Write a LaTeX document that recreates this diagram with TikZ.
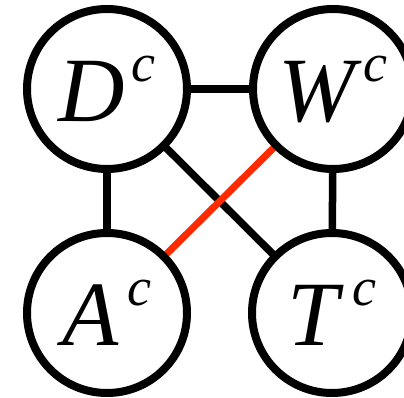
\documentclass[tikz,border=0pt]{standalone}
\usepackage{fontspec}
\setmainfont{Liberation Serif}
\usetikzlibrary{backgrounds}
\definecolor{edgered}{HTML}{FF2A00}
\newcommand{\lbl}[2]{{\fontsize{92}{92}\selectfont\itshape #1\kern #2\raisebox{40pt}{\fontsize{54}{54}\selectfont c}}}
\begin{document}
\begin{tikzpicture}[x=1pt,y=1pt,
  var/.style={circle,draw=black,line width=8pt,fill=white,minimum size=160pt,inner sep=0pt},
  link/.style={line width=7.5pt,draw=black},
  redlink/.style={line width=7pt,draw=edgered}]
\useasboundingbox (0,0) rectangle (404,398);
\node[var] (D) at (107,309) {\lbl{D}{6pt}};
\node[var] (W) at (333,309) {\lbl{W}{9pt}};
\node[var] (A) at (107,85) {\lbl{A}{9pt}};
\node[var] (T) at (332,85) {\lbl{T}{14pt}};
\begin{scope}[on background layer]
\draw[link] (D.center) -- (W.center);
\draw[link] (D.center) -- (A.center);
\draw[link] (W.center) -- (T.center);
\draw[link] (D.center) -- (T.center);
\draw[redlink] (W.center) -- (A.center);
\end{scope}
\end{tikzpicture}
\end{document}
